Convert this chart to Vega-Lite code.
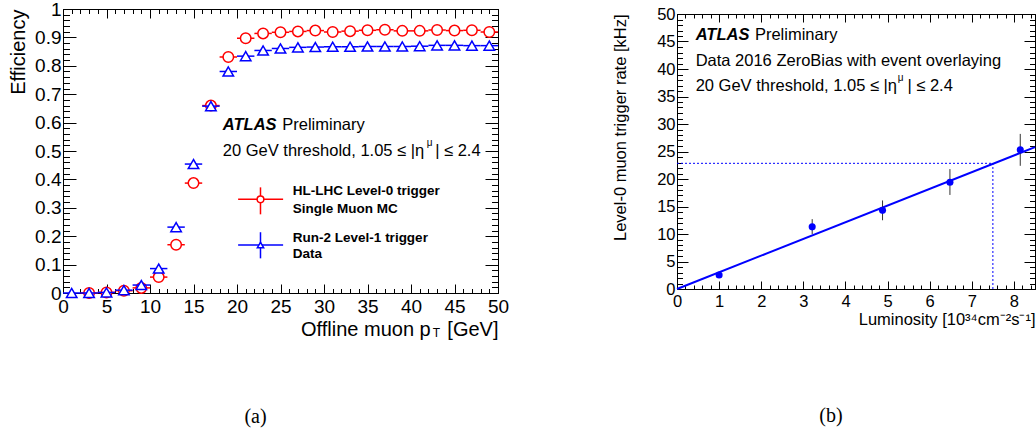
{
  "$schema": "https://vega.github.io/schema/vega-lite/v6.json",
  "padding": {"left": 8, "top": 0, "right": 0, "bottom": 0},
  "background": "white",
  "spacing": 179,
  "bounds": "flush",
  "datasets": {
    "red": [
      {"pt": 3, "lo": 2, "hi": 4, "eff": 0.0},
      {"pt": 5, "lo": 4, "hi": 6, "eff": 0.002},
      {"pt": 7, "lo": 6, "hi": 8, "eff": 0.008},
      {"pt": 9, "lo": 8, "hi": 10, "eff": 0.018},
      {"pt": 11, "lo": 10, "hi": 12, "eff": 0.056},
      {"pt": 13, "lo": 12, "hi": 14, "eff": 0.17},
      {"pt": 15, "lo": 14, "hi": 16, "eff": 0.387},
      {"pt": 17, "lo": 16, "hi": 18, "eff": 0.66},
      {"pt": 19, "lo": 18, "hi": 20, "eff": 0.831},
      {"pt": 21, "lo": 20, "hi": 22, "eff": 0.897},
      {"pt": 23, "lo": 22, "hi": 24, "eff": 0.914},
      {"pt": 25, "lo": 24, "hi": 26, "eff": 0.918},
      {"pt": 27, "lo": 26, "hi": 28, "eff": 0.921},
      {"pt": 29, "lo": 28, "hi": 30, "eff": 0.924},
      {"pt": 31, "lo": 30, "hi": 32, "eff": 0.919},
      {"pt": 33, "lo": 32, "hi": 34, "eff": 0.922},
      {"pt": 35, "lo": 34, "hi": 36, "eff": 0.925},
      {"pt": 37, "lo": 36, "hi": 38, "eff": 0.927},
      {"pt": 39, "lo": 38, "hi": 40, "eff": 0.923},
      {"pt": 41, "lo": 40, "hi": 42, "eff": 0.923},
      {"pt": 43, "lo": 42, "hi": 44, "eff": 0.926},
      {"pt": 45, "lo": 44, "hi": 46, "eff": 0.924},
      {"pt": 47, "lo": 46, "hi": 48, "eff": 0.925},
      {"pt": 49, "lo": 48, "hi": 50, "eff": 0.919}
    ],
    "blue": [
      {"pt": 1, "lo": 0, "hi": 2, "eff": 0.0},
      {"pt": 3, "lo": 2, "hi": 4, "eff": 0.0},
      {"pt": 5, "lo": 4, "hi": 6, "eff": 0.002},
      {"pt": 7, "lo": 6, "hi": 8, "eff": 0.01},
      {"pt": 9, "lo": 8, "hi": 10, "eff": 0.028},
      {"pt": 11, "lo": 10, "hi": 12, "eff": 0.086},
      {"pt": 13, "lo": 12, "hi": 14, "eff": 0.232},
      {"pt": 15, "lo": 14, "hi": 16, "eff": 0.454},
      {"pt": 17, "lo": 16, "hi": 18, "eff": 0.658},
      {"pt": 19, "lo": 18, "hi": 20, "eff": 0.78},
      {"pt": 21, "lo": 20, "hi": 22, "eff": 0.834},
      {"pt": 23, "lo": 22, "hi": 24, "eff": 0.854},
      {"pt": 25, "lo": 24, "hi": 26, "eff": 0.861},
      {"pt": 27, "lo": 26, "hi": 28, "eff": 0.865},
      {"pt": 29, "lo": 28, "hi": 30, "eff": 0.866},
      {"pt": 31, "lo": 30, "hi": 32, "eff": 0.867},
      {"pt": 33, "lo": 32, "hi": 34, "eff": 0.867},
      {"pt": 35, "lo": 34, "hi": 36, "eff": 0.868},
      {"pt": 37, "lo": 36, "hi": 38, "eff": 0.868},
      {"pt": 39, "lo": 38, "hi": 40, "eff": 0.868},
      {"pt": 41, "lo": 40, "hi": 42, "eff": 0.869},
      {"pt": 43, "lo": 42, "hi": 44, "eff": 0.872},
      {"pt": 45, "lo": 44, "hi": 46, "eff": 0.872},
      {"pt": 47, "lo": 46, "hi": 48, "eff": 0.871},
      {"pt": 49, "lo": 48, "hi": 50, "eff": 0.871}
    ],
    "rate": [
      {"lumi": 1.0, "rate": 2.55, "lo": 2.1, "hi": 3.0},
      {"lumi": 3.21, "rate": 11.3, "lo": 10.0, "hi": 12.7},
      {"lumi": 4.88, "rate": 14.3, "lo": 12.5, "hi": 16.1},
      {"lumi": 6.48, "rate": 19.4, "lo": 17.1, "hi": 21.8},
      {"lumi": 8.15, "rate": 25.3, "lo": 22.4, "hi": 28.2}
    ],
    "fit": [
      {"lumi": 0, "rate": 0},
      {"lumi": 8.5, "rate": 25.8}
    ],
    "ref": [
      {"lumi": 0, "lumi2": 7.5, "rate": 22.85, "rate2": 22.85},
      {"lumi": 7.5, "lumi2": 7.5, "rate": 0, "rate2": 22.85}
    ],
    "one": [{}]
  },
  "hconcat": [
    {
      "width": 435,
      "height": 284,
      "title": {"text": "(a)", "orient": "bottom", "anchor": "middle", "frame": "group", "dx": -25, "offset": 68, "font": "Liberation Serif", "fontSize": 20, "fontWeight": "normal"},
      "resolve": {"axis": {"x": "independent", "y": "independent"}},
      "layer": [
        {
          "data": {"name": "red"},
          "mark": {"type": "rule", "color": "#ff0000", "strokeWidth": 1.5},
          "encoding": {
            "x": {"field": "lo", "type": "quantitative", "scale": {"domain": [0, 50], "nice": false, "zero": false},
              "axis": {"orient": "bottom", "values": [0,1,2,3,4,5,6,7,8,9,10,11,12,13,14,15,16,17,18,19,20,21,22,23,24,25,26,27,28,29,30,31,32,33,34,35,36,37,38,39,40,41,42,43,44,45,46,47,48,49,50], "labels": false, "domain": false, "title": null, "tickSize": -4.5}},
            "x2": {"field": "hi"},
            "y": {"field": "eff", "type": "quantitative", "scale": {"domain": [0, 1], "nice": false, "zero": false},
              "axis": {"orient": "left", "values": [0,0.02,0.04,0.06,0.08,0.1,0.12,0.14,0.16,0.18,0.2,0.22,0.24,0.26,0.28,0.3,0.32,0.34,0.36,0.38,0.4,0.42,0.44,0.46,0.48,0.5,0.52,0.54,0.56,0.58,0.6,0.62,0.64,0.66,0.68,0.7,0.72,0.74,0.76,0.78,0.8,0.82,0.84,0.86,0.88,0.9,0.92,0.94,0.96,0.98,1], "labels": false, "domain": false, "title": null, "tickSize": -6.5}}
          }
        },
        {
          "data": {"name": "red"},
          "mark": {"type": "point", "shape": "circle", "size": 110, "filled": true, "fill": "white", "stroke": "#ff0000", "strokeWidth": 1.5, "opacity": 1},
          "encoding": {
            "x": {"field": "pt", "type": "quantitative",
              "axis": {"orient": "bottom", "values": [0,5,10,15,20,25,30,35,40,45,50], "format": "~g", "tickSize": -9, "labelPadding": 13, "labelFontSize": 19, "title": "Offline muon p\u00a0\u00a0\u00a0[GeV]", "titleFontSize": 20, "titleAnchor": "end", "titlePadding": 3}},
            "y": {"field": "eff", "type": "quantitative",
              "axis": {"orient": "left", "values": [0,0.1,0.2,0.3,0.4,0.5,0.6,0.7,0.8,0.9,1], "format": "~g", "tickSize": -13, "labelPadding": 15, "labelFontSize": 19, "title": "Efficiency", "titleFontSize": 20, "titleAnchor": "end", "titlePadding": 6}}
          }
        },
        {
          "data": {"name": "blue"},
          "mark": {"type": "rule", "color": "#0000ff", "strokeWidth": 1.5},
          "encoding": {
            "x": {"field": "lo", "type": "quantitative",
              "axis": {"orient": "top", "values": [0,1,2,3,4,5,6,7,8,9,10,11,12,13,14,15,16,17,18,19,20,21,22,23,24,25,26,27,28,29,30,31,32,33,34,35,36,37,38,39,40,41,42,43,44,45,46,47,48,49,50], "labels": false, "domain": false, "title": null, "tickSize": -4.5}},
            "x2": {"field": "hi"},
            "y": {"field": "eff", "type": "quantitative",
              "axis": {"orient": "right", "values": [0,0.02,0.04,0.06,0.08,0.1,0.12,0.14,0.16,0.18,0.2,0.22,0.24,0.26,0.28,0.3,0.32,0.34,0.36,0.38,0.4,0.42,0.44,0.46,0.48,0.5,0.52,0.54,0.56,0.58,0.6,0.62,0.64,0.66,0.68,0.7,0.72,0.74,0.76,0.78,0.8,0.82,0.84,0.86,0.88,0.9,0.92,0.94,0.96,0.98,1], "labels": false, "domain": false, "title": null, "tickSize": -6.5}}
          }
        },
        {
          "data": {"name": "blue"},
          "mark": {"type": "point", "shape": "triangle-up", "size": 110, "filled": true, "fill": "white", "stroke": "#0000ff", "strokeWidth": 1.5, "opacity": 1},
          "encoding": {
            "x": {"field": "pt", "type": "quantitative",
              "axis": {"orient": "top", "values": [0,5,10,15,20,25,30,35,40,45,50], "labels": false, "title": null, "tickSize": -9}},
            "y": {"field": "eff", "type": "quantitative",
              "axis": {"orient": "right", "values": [0,0.1,0.2,0.3,0.4,0.5,0.6,0.7,0.8,0.9,1], "labels": false, "title": null, "tickSize": -13}}
          }
        },
        {
          "data": {"name": "one"},
          "mark": {"type": "text", "text": "ATLAS", "fontSize": 16.5, "fontWeight": "bold", "fontStyle": "italic", "align": "left", "baseline": "middle"},
          "encoding": {"x": {"datum": 18.37, "type": "quantitative", "axis": null}, "y": {"datum": 0.59, "type": "quantitative", "axis": null}}
        },
        {
          "data": {"name": "one"},
          "mark": {"type": "text", "text": "Preliminary", "fontSize": 16.5, "align": "left", "baseline": "middle"},
          "encoding": {"x": {"datum": 25.2, "type": "quantitative", "axis": null}, "y": {"datum": 0.59, "type": "quantitative", "axis": null}}
        },
        {
          "data": {"name": "one"},
          "mark": {"type": "text", "text": "20 GeV threshold, 1.05 ≤ |η", "fontSize": 16.5, "align": "left", "baseline": "middle"},
          "encoding": {"x": {"datum": 18.37, "type": "quantitative", "axis": null}, "y": {"datum": 0.5, "type": "quantitative", "axis": null}}
        },
        {
          "data": {"name": "one"},
          "mark": {"type": "text", "text": "μ", "fontSize": 10, "align": "left", "baseline": "middle"},
          "encoding": {"x": {"datum": 41.8, "type": "quantitative", "axis": null}, "y": {"datum": 0.528, "type": "quantitative", "axis": null}}
        },
        {
          "data": {"name": "one"},
          "mark": {"type": "text", "text": "| ≤ 2.4", "fontSize": 16.5, "align": "right", "baseline": "middle"},
          "encoding": {"x": {"datum": 48.0, "type": "quantitative", "axis": null}, "y": {"datum": 0.5, "type": "quantitative", "axis": null}}
        },
        {
          "data": {"name": "one"},
          "mark": {"type": "rule", "color": "#ff0000", "strokeWidth": 1.5},
          "encoding": {"x": {"datum": 20.13, "type": "quantitative", "axis": null}, "x2": {"datum": 25.3}, "y": {"datum": 0.33, "type": "quantitative", "axis": null}}
        },
        {
          "data": {"name": "one"},
          "mark": {"type": "rule", "color": "#ff0000", "strokeWidth": 1.5},
          "encoding": {"x": {"datum": 22.7, "type": "quantitative", "axis": null}, "y": {"datum": 0.277, "type": "quantitative", "axis": null}, "y2": {"datum": 0.372}}
        },
        {
          "data": {"name": "one"},
          "mark": {"type": "point", "shape": "circle", "size": 45, "filled": true, "fill": "white", "stroke": "#ff0000", "strokeWidth": 1.5, "opacity": 1},
          "encoding": {"x": {"datum": 22.7, "type": "quantitative", "axis": null}, "y": {"datum": 0.33, "type": "quantitative", "axis": null}}
        },
        {
          "data": {"name": "one"},
          "mark": {"type": "rule", "color": "#0000ff", "strokeWidth": 1.5},
          "encoding": {"x": {"datum": 20.13, "type": "quantitative", "axis": null}, "x2": {"datum": 25.3}, "y": {"datum": 0.169, "type": "quantitative", "axis": null}}
        },
        {
          "data": {"name": "one"},
          "mark": {"type": "rule", "color": "#0000ff", "strokeWidth": 1.5},
          "encoding": {"x": {"datum": 22.7, "type": "quantitative", "axis": null}, "y": {"datum": 0.122, "type": "quantitative", "axis": null}, "y2": {"datum": 0.214}}
        },
        {
          "data": {"name": "one"},
          "mark": {"type": "point", "shape": "triangle-up", "size": 40, "filled": true, "fill": "white", "stroke": "#0000ff", "strokeWidth": 1.5, "opacity": 1},
          "encoding": {"x": {"datum": 22.7, "type": "quantitative", "axis": null}, "y": {"datum": 0.169, "type": "quantitative", "axis": null}}
        },
        {
          "data": {"name": "one"},
          "mark": {"type": "text", "text": "HL-LHC Level-0 trigger", "fontSize": 13.5, "fontWeight": "bold", "align": "left", "baseline": "middle"},
          "encoding": {"x": {"datum": 26.42, "type": "quantitative", "axis": null}, "y": {"datum": 0.358, "type": "quantitative", "axis": null}}
        },
        {
          "data": {"name": "one"},
          "mark": {"type": "text", "text": "Single Muon MC", "fontSize": 13.5, "fontWeight": "bold", "align": "left", "baseline": "middle"},
          "encoding": {"x": {"datum": 26.42, "type": "quantitative", "axis": null}, "y": {"datum": 0.295, "type": "quantitative", "axis": null}}
        },
        {
          "data": {"name": "one"},
          "mark": {"type": "text", "text": "Run-2 Level-1 trigger", "fontSize": 13.5, "fontWeight": "bold", "align": "left", "baseline": "middle"},
          "encoding": {"x": {"datum": 26.42, "type": "quantitative", "axis": null}, "y": {"datum": 0.195, "type": "quantitative", "axis": null}}
        },
        {
          "data": {"name": "one"},
          "mark": {"type": "text", "text": "Data", "fontSize": 13.5, "fontWeight": "bold", "align": "left", "baseline": "middle"},
          "encoding": {"x": {"datum": 26.42, "type": "quantitative", "axis": null}, "y": {"datum": 0.136, "type": "quantitative", "axis": null}}
        },
        {
          "data": {"name": "one"},
          "mark": {"type": "text", "text": "T", "fontSize": 12, "align": "left", "baseline": "middle"},
          "encoding": {"x": {"datum": 42.5, "type": "quantitative", "axis": null}, "y": {"datum": -0.142, "type": "quantitative", "axis": null}}
        }
      ]
    },
    {
      "width": 358,
      "height": 280,
      "title": {"text": "(b)", "orient": "bottom", "anchor": "middle", "frame": "group", "dx": -25, "offset": 78, "font": "Liberation Serif", "fontSize": 20, "fontWeight": "normal"},
      "resolve": {"axis": {"x": "independent", "y": "independent"}},
      "layer": [
        {
          "data": {"name": "fit"},
          "mark": {"type": "line", "color": "#0000ff", "strokeWidth": 2},
          "encoding": {
            "x": {"field": "lumi", "type": "quantitative", "scale": {"domain": [0, 8.5], "nice": false, "zero": false},
              "axis": {"orient": "bottom", "values": [0,1,2,3,4,5,6,7,8], "format": "~g", "tickSize": -8, "labelPadding": 12, "labelFontSize": 16.5, "title": "Luminosity [10³⁴cm⁻²s⁻¹]", "titleFontSize": 16.5, "titleAnchor": "end", "titlePadding": 2}},
            "y": {"field": "rate", "type": "quantitative", "scale": {"domain": [0, 50], "nice": false, "zero": false, "range": [280, 5]},
              "axis": {"orient": "left", "values": [0,5,10,15,20,25,30,35,40,45,50], "format": "~g", "tickSize": -11, "labelPadding": 13, "labelFontSize": 16.5, "title": "Level-0 muon trigger rate [kHz]", "titleFontSize": 16.5, "titleAnchor": "end", "titlePadding": 28}}
          }
        },
        {
          "data": {"name": "ref"},
          "mark": {"type": "rule", "color": "#0000ff", "strokeWidth": 1, "strokeDash": [2, 2]},
          "encoding": {
            "x": {"field": "lumi", "type": "quantitative",
              "axis": {"orient": "bottom", "values": [0,0.2,0.4,0.6,0.8,1,1.2,1.4,1.6,1.8,2,2.2,2.4,2.6,2.8,3,3.2,3.4,3.6,3.8,4,4.2,4.4,4.6,4.8,5,5.2,5.4,5.6,5.8,6,6.2,6.4,6.6,6.8,7,7.2,7.4,7.6,7.8,8,8.2,8.4], "labels": false, "domain": false, "title": null, "tickSize": -4}},
            "x2": {"field": "lumi2"},
            "y": {"field": "rate", "type": "quantitative",
              "axis": {"orient": "left", "values": [0,1,2,3,4,5,6,7,8,9,10,11,12,13,14,15,16,17,18,19,20,21,22,23,24,25,26,27,28,29,30,31,32,33,34,35,36,37,38,39,40,41,42,43,44,45,46,47,48,49,50], "labels": false, "domain": false, "title": null, "tickSize": -5.5}},
            "y2": {"field": "rate2"}
          }
        },
        {
          "data": {"name": "rate"},
          "mark": {"type": "rule", "color": "#333333", "strokeWidth": 1},
          "encoding": {
            "x": {"field": "lumi", "type": "quantitative",
              "axis": {"orient": "top", "offset": -5, "values": [0,1,2,3,4,5,6,7,8], "labels": false, "title": null, "tickSize": -8}},
            "y": {"field": "lo", "type": "quantitative",
              "axis": {"orient": "right", "values": [0,5,10,15,20,25,30,35,40,45,50], "labels": false, "title": null, "tickSize": -11}},
            "y2": {"field": "hi"}
          }
        },
        {
          "data": {"name": "rate"},
          "mark": {"type": "point", "shape": "circle", "size": 50, "filled": true, "color": "#0000ff", "opacity": 1},
          "encoding": {
            "x": {"field": "lumi", "type": "quantitative",
              "axis": {"orient": "top", "offset": -5, "values": [0,0.2,0.4,0.6,0.8,1,1.2,1.4,1.6,1.8,2,2.2,2.4,2.6,2.8,3,3.2,3.4,3.6,3.8,4,4.2,4.4,4.6,4.8,5,5.2,5.4,5.6,5.8,6,6.2,6.4,6.6,6.8,7,7.2,7.4,7.6,7.8,8,8.2,8.4], "labels": false, "domain": false, "title": null, "tickSize": -4}},
            "y": {"field": "rate", "type": "quantitative",
              "axis": {"orient": "right", "values": [0,1,2,3,4,5,6,7,8,9,10,11,12,13,14,15,16,17,18,19,20,21,22,23,24,25,26,27,28,29,30,31,32,33,34,35,36,37,38,39,40,41,42,43,44,45,46,47,48,49,50], "labels": false, "domain": false, "title": null, "tickSize": -5.5}}
          }
        },
        {
          "data": {"name": "one"},
          "mark": {"type": "text", "text": "ATLAS", "fontSize": 16.5, "fontWeight": "bold", "fontStyle": "italic", "align": "left", "baseline": "middle"},
          "encoding": {"x": {"datum": 0.443, "type": "quantitative", "axis": null}, "y": {"datum": 46.2, "type": "quantitative", "axis": null}}
        },
        {
          "data": {"name": "one"},
          "mark": {"type": "text", "text": "Preliminary", "fontSize": 16.5, "align": "left", "baseline": "middle"},
          "encoding": {"x": {"datum": 1.85, "type": "quantitative", "axis": null}, "y": {"datum": 46.2, "type": "quantitative", "axis": null}}
        },
        {
          "data": {"name": "one"},
          "mark": {"type": "text", "text": "Data 2016 ZeroBias with event overlaying", "fontSize": 16.5, "align": "left", "baseline": "middle"},
          "encoding": {"x": {"datum": 0.443, "type": "quantitative", "axis": null}, "y": {"datum": 41.5, "type": "quantitative", "axis": null}}
        },
        {
          "data": {"name": "one"},
          "mark": {"type": "text", "text": "20 GeV threshold, 1.05 ≤ |η", "fontSize": 16.5, "align": "left", "baseline": "middle"},
          "encoding": {"x": {"datum": 0.443, "type": "quantitative", "axis": null}, "y": {"datum": 36.96, "type": "quantitative", "axis": null}}
        },
        {
          "data": {"name": "one"},
          "mark": {"type": "text", "text": "μ", "fontSize": 10, "align": "left", "baseline": "middle"},
          "encoding": {"x": {"datum": 5.24, "type": "quantitative", "axis": null}, "y": {"datum": 38.4, "type": "quantitative", "axis": null}}
        },
        {
          "data": {"name": "one"},
          "mark": {"type": "text", "text": "| ≤ 2.4", "fontSize": 16.5, "align": "right", "baseline": "middle"},
          "encoding": {"x": {"datum": 6.55, "type": "quantitative", "axis": null}, "y": {"datum": 36.96, "type": "quantitative", "axis": null}}
        }
      ]
    }
  ],
  "config": {
    "view": {"stroke": null},
    "axis": {"grid": false, "labelFont": "Liberation Sans", "titleFont": "Liberation Sans", "labelColor": "black", "titleColor": "black", "tickColor": "black", "domainColor": "black", "titleFontWeight": "normal", "labelFlush": false, "labelOverlap": false, "tickWidth": 1, "domainWidth": 1},
    "text": {"font": "Liberation Sans", "color": "black"},
    "title": {"font": "Liberation Serif", "fontWeight": "normal", "fontSize": 20, "color": "black"}
  }
}
